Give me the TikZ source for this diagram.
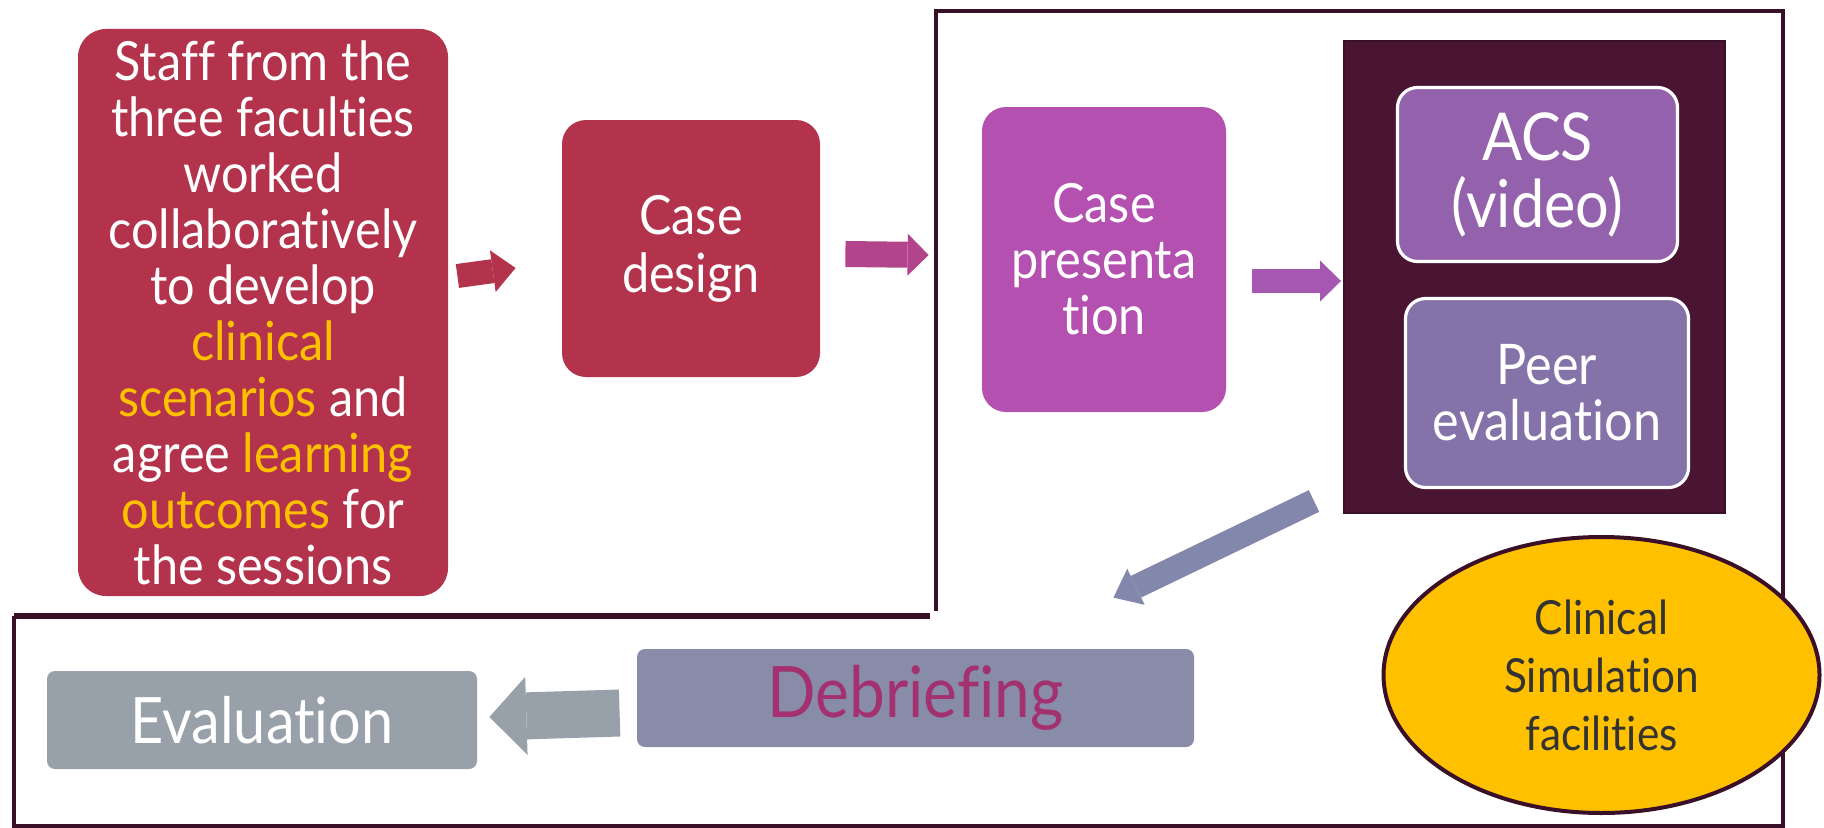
\documentclass[tikz,border=0pt]{standalone}
\usepackage{fontspec}
\setmainfont[FakeStretch=0.9, Ligatures={NoCommon}]{Lato}
\usepackage{tikz}
\usetikzlibrary{shapes.geometric, arrows.meta}
\definecolor{crimson}{HTML}{B2334B}
\definecolor{pinkarrow}{HTML}{B2448C}
\definecolor{orchid}{HTML}{B450B0}
\definecolor{orchidarrow}{HTML}{A657B2}
\definecolor{plum}{HTML}{4A1533}
\definecolor{framecol}{HTML}{3A1028}
\definecolor{acscol}{HTML}{9462AC}
\definecolor{peercol}{HTML}{8473A9}
\definecolor{slate}{HTML}{8387AC}
\definecolor{debriefcol}{HTML}{888CA8}
\definecolor{debrieftext}{HTML}{A3306F}
\definecolor{evalcol}{HTML}{98A1A9}
\definecolor{amber}{HTML}{FFC000}
\definecolor{darktext}{HTML}{333333}
\tikzstyle{stage} = [rectangle, inner sep=0pt, align=center, text=white]
\tikzstyle{planning} = [stage, rounded corners=14pt, fill=crimson]
\tikzstyle{session} = [stage, rounded corners=10pt, draw=white, line width=1.6pt]
\tikzstyle{closing} = [stage, rounded corners=4pt]
\tikzstyle{frame} = [draw=framecol, line width=1.8pt]
\tikzstyle{fat} = [line width=12pt]
\newcommand{\hl}[1]{\textcolor{amber}{#1}}

\begin{document}
\begin{tikzpicture}[x=0.5pt, y=0.5pt]
        \useasboundingbox (0,0) rectangle (1824,827);

        % outline of the two areas
        \draw [frame] (936,216) -- (936,816) -- (1783,816) -- (1783,1) -- (14,1) -- (14,211);
        \draw [frame, line width=2.6pt] (14,211) -- (930,211);

        \node (staff) [planning, minimum width=185pt, minimum height=283.5pt, font=\fontsize{27}{28}\selectfont] at (263,514.5) {Staff from the\\three faculties\\worked\\collaboratively\\to develop\\\hl{clinical}\\\hl{scenarios} and\\agree \hl{learning}\\\hl{outcomes} for\\the sessions};
        \node (design) [planning, rounded corners=12pt, minimum width=129pt, minimum height=128.5pt, font=\fontsize{27}{29}\selectfont] at (691,578.5) {Case\\design};
        \node (presentation) [stage, rounded corners=12pt, fill=orchid, minimum width=122pt, minimum height=152.5pt, font=\fontsize{27}{28}\selectfont] at (1104,567.5) {Case\\presenta\\tion};
        \node (group) [rectangle, fill=plum, draw=framecol, line width=1pt, minimum width=190.5pt, minimum height=236pt] at (1534.5,550) {};
        \node (acs) [session, fill=acscol, minimum width=140pt, minimum height=87pt, font=\fontsize{33}{33.5}\selectfont] at (1537.5,652.5) {ACS\\(video)};
        \node (peer) [session, fill=peercol, minimum width=141.5pt, minimum height=94.5pt, font=\fontsize{28}{28}\selectfont] at (1547,434) {Peer\\evaluation};
        \node (debrief) [closing, fill=debriefcol, text=debrieftext, minimum width=278.5pt, minimum height=49pt, font=\fontsize{35.5}{36}\selectfont] at (915.5,129) {Debriefing};
        \node (evaluation) [closing, fill=evalcol, minimum width=215pt, minimum height=49pt, font=\fontsize{32}{34}\selectfont] at (262,107) {Evaluation};
        \node (facilities) [ellipse, fill=amber, draw=framecol, line width=2pt, inner sep=0pt, minimum width=218pt, minimum height=138pt, align=center, text=darktext, font=\fontsize{23.5}{29}\selectfont] at (1601.5,152) {Clinical\\Simulation\\facilities};

        \draw [fat, crimson, -{Triangle[length=11.5pt, width=21pt, line width=0pt]}] ([shift={(9,36.5)}]staff.east) -- ([shift={(-46,-19.5)}]design.west);
        \draw [fat, line width=13pt, pinkarrow, -{Triangle[length=10.5pt, width=21pt, line width=0pt]}] ([shift={(25,-5.5)}]design.east) -- ([shift={(-53,4.5)}]presentation.west);
        \draw [fat, orchidarrow, -{Triangle[length=10.5pt, width=20.5pt, line width=0pt]}] ([shift={(26,-21.5)}]presentation.east) -- ([shift={(-2,-4)}]group.west);
        \draw [fat, slate, -{Triangle[length=12.5pt, width=20pt, line width=0pt]}] ([shift={(-29,13)}]group.south west) -- ([shift={(-81,51)}]debrief.north east);
        \draw [fat, line width=23.5pt, evalcol, -{Triangle[length=18.5pt, width=39pt, line width=0pt]}] ([shift={(-17,-15)}]debrief.west) -- ([shift={(12,3)}]evaluation.east);

      \end{tikzpicture}
\end{document}
